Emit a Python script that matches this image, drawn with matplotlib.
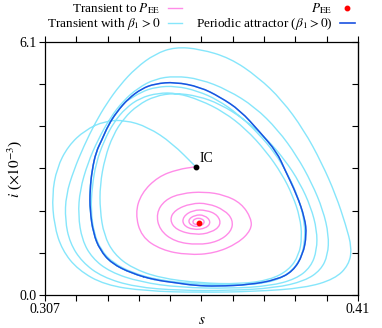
import numpy as np
import matplotlib
matplotlib.use("Agg")
import matplotlib.pyplot as plt
from matplotlib.path import Path
from matplotlib.patches import PathPatch
from matplotlib.lines import Line2D

plt.rcParams['font.family'] = ['Liberation Serif', 'DejaVu Serif']
plt.rcParams['mathtext.fontset'] = 'stix'

# axis limits / ticks
s_min, s_max = 0.307, 0.41
i_min, i_max = 0.0, 6.1
x_tick_labels = ["0.307", "0.41"]
y_tick_labels = ["0.0", "6.1"]

# points (s, i x 1e-3)
ic = (0.3567, 3.086)
p_ee = (0.3576, 1.729)

# transient to P_EE (beta1 = 0), spiral from IC into P_EE
spiral_s = [0.3568, 0.3508, 0.3442, 0.3387, 0.3367, 0.3387, 0.3453, 0.3540, 0.3628, 0.3705,
            0.3749, 0.3749, 0.3716, 0.3661, 0.3595, 0.3518, 0.3464, 0.3436, 0.3447, 0.3497,
            0.3573, 0.3639, 0.3683, 0.3689, 0.3661, 0.3606, 0.3551, 0.3497, 0.3480, 0.3502,
            0.3563, 0.3617, 0.3650, 0.3639, 0.3601, 0.3557, 0.3524, 0.3524, 0.3557, 0.3601,
            0.3617, 0.3595, 0.3563, 0.3540, 0.3551, 0.3579, 0.3597, 0.3587, 0.3563, 0.3554,
            0.3568, 0.3582, 0.3576]
spiral_i = [3.093, 3.031, 2.852, 2.452, 1.970, 1.406, 1.085, 0.964, 1.005, 1.246,
            1.567, 1.849, 2.211, 2.411, 2.491, 2.452, 2.290, 1.970, 1.567, 1.285,
            1.206, 1.285, 1.526, 1.808, 2.049, 2.211, 2.211, 2.049, 1.808, 1.567,
            1.447, 1.502, 1.688, 1.929, 2.049, 2.049, 1.888, 1.688, 1.567, 1.608,
            1.767, 1.929, 1.929, 1.808, 1.664, 1.647, 1.743, 1.849, 1.849, 1.743,
            1.688, 1.729, 1.729]

# transient with beta1 > 0, from IC towards the periodic attractor
trans_s = [0.3567, 0.3488, 0.3409, 0.3333, 0.3267, 0.3202, 0.3146, 0.3109, 0.3093, 0.3100,
           0.3126, 0.3179, 0.3267, 0.3399, 0.3580, 0.3761, 0.3925, 0.4024, 0.4070, 0.4080,
           0.4060, 0.4027, 0.3981, 0.3922, 0.3850, 0.3771, 0.3679, 0.3580, 0.3498, 0.3432,
           0.3369, 0.3317, 0.3274, 0.3235, 0.3198, 0.3165, 0.3139, 0.3136, 0.3152, 0.3192,
           0.3258, 0.3366, 0.3514, 0.3679, 0.3827, 0.3925, 0.3978, 0.4001, 0.4004, 0.3985,
           0.3948, 0.3899, 0.3837, 0.3761, 0.3672, 0.3580, 0.3498, 0.3432, 0.3376, 0.3327,
           0.3284, 0.3244, 0.3211, 0.3185, 0.3179, 0.3192, 0.3225, 0.3284, 0.3383, 0.3514,
           0.3679, 0.3810, 0.3896, 0.3945, 0.3965, 0.3965, 0.3945, 0.3909, 0.3860, 0.3797,
           0.3725, 0.3646, 0.3573, 0.3498, 0.3432, 0.3376, 0.3330, 0.3294, 0.3267, 0.3251,
           0.3251, 0.3264, 0.3297, 0.3356, 0.3448, 0.3580, 0.3712, 0.3810, 0.3873, 0.3906,
           0.3916, 0.3909, 0.3886, 0.3850, 0.3797, 0.3731, 0.3659, 0.3580, 0.3504, 0.3442,
           0.3383, 0.3336, 0.3297, 0.3264, 0.3238, 0.3225, 0.3221, 0.3231, 0.3254, 0.3294,
           0.3360, 0.3442, 0.3564, 0.3695, 0.3804, 0.3869, 0.3909, 0.3925, 0.3925, 0.3906,
           0.3869, 0.3827, 0.3771, 0.3705, 0.3639, 0.3573, 0.3501, 0.3435, 0.3386, 0.3340]
trans_i = [3.086, 3.665, 4.050, 4.219, 4.195, 3.978, 3.592, 3.062, 2.411, 1.688,
           1.085, 0.603, 0.241, 0.096, 0.060, 0.084, 0.169, 0.386, 0.723, 1.133,
           1.688, 2.411, 3.183, 3.978, 4.701, 5.256, 5.714, 5.931, 5.979, 5.811,
           5.473, 5.063, 4.629, 4.147, 3.592, 3.014, 2.411, 1.808, 1.254, 0.796,
           0.434, 0.193, 0.108, 0.108, 0.169, 0.338, 0.603, 0.964, 1.447, 2.049,
           2.700, 3.351, 3.978, 4.533, 4.943, 5.208, 5.280, 5.208, 4.991, 4.677,
           4.267, 3.737, 3.183, 2.532, 1.929, 1.326, 0.892, 0.555, 0.313, 0.181,
           0.157, 0.217, 0.386, 0.675, 1.085, 1.567, 2.122, 2.700, 3.255, 3.785,
           4.243, 4.605, 4.798, 4.870, 4.798, 4.581, 4.267, 3.858, 3.303, 2.652,
           2.049, 1.447, 0.989, 0.651, 0.410, 0.289, 0.265, 0.362, 0.603, 0.964,
           1.398, 1.881, 2.387, 2.917, 3.472, 4.002, 4.412, 4.701, 4.870, 4.870,
           4.750, 4.509, 4.171, 3.713, 3.183, 2.604, 2.049, 1.495, 1.085, 0.772,
           0.530, 0.362, 0.265, 0.229, 0.289, 0.482, 0.820, 1.254, 1.736, 2.315,
           2.917, 3.424, 3.906, 4.364, 4.701, 4.918, 5.039, 5.015, 4.894, 4.677]

# periodic attractor (beta1 > 0), one closed cycle
attr_s = [0.3432, 0.3498, 0.3563, 0.3636, 0.3744, 0.3833, 0.3886, 0.3919, 0.3931, 0.3925,
          0.3899, 0.3860, 0.3833, 0.3777, 0.3712, 0.3646, 0.3580, 0.3498, 0.3432, 0.3388,
          0.3344, 0.3306, 0.3278, 0.3257, 0.3238, 0.3225, 0.3218, 0.3218, 0.3229, 0.3251,
          0.3289, 0.3355, 0.3432]
attr_i = [0.362, 0.297, 0.229, 0.210, 0.248, 0.369, 0.571, 0.972, 1.454, 1.856,
          2.411, 3.014, 3.448, 3.930, 4.453, 4.774, 5.015, 5.135, 5.094, 4.974,
          4.733, 4.412, 4.091, 3.737, 3.448, 3.014, 2.532, 2.049, 1.488, 1.085,
          0.764, 0.523, 0.362]

c_pink = '#ff8ce8'
c_cyan = '#86e6fb'
c_blue = '#1a52e0'


def smooth_path(xs, ys, closed=False):
    # quadratic bezier through the read points (points used as control points)
    p = np.column_stack([xs, ys])
    if closed:
        p = p[:-1]
        nxt = np.roll(p, -1, axis=0)
        mids = (p + nxt) / 2
        verts = [mids[-1]]
        codes = [Path.MOVETO]
        for k in range(len(p)):
            verts += [p[k], mids[k]]
            codes += [Path.CURVE3, Path.CURVE3]
        return Path(verts, codes)
    mids = (p[:-1] + p[1:]) / 2
    verts = [p[0], mids[0]]
    codes = [Path.MOVETO, Path.LINETO]
    for k in range(1, len(p) - 1):
        verts += [p[k], mids[k]]
        codes += [Path.CURVE3, Path.CURVE3]
    verts.append(p[-1])
    codes.append(Path.LINETO)
    return Path(verts, codes)


def add_curve(ax, xs, ys, color, lw, z, closed=False):
    patch = PathPatch(smooth_path(xs, ys, closed), facecolor='none', edgecolor=color,
                      lw=lw, zorder=z, capstyle='round', joinstyle='round')
    ax.add_patch(patch)


fig = plt.figure(figsize=(3.82, 3.28), dpi=100)
ax = fig.add_axes([0.1178, 0.1006, 0.8192, 0.7714])

# cyan transient, then once round the attractor
ts = trans_s + attr_s[20:] + attr_s[1:]
ti = trans_i + attr_i[20:] + attr_i[1:]
add_curve(ax, ts, ti, c_cyan, 1.0, 2)
add_curve(ax, spiral_s, spiral_i, c_pink, 1.0, 3)
add_curve(ax, attr_s, attr_i, c_blue, 1.1, 4, closed=True)
ax.plot([p_ee[0]], [p_ee[1]], 'o', color='red', ms=3.2, zorder=5)
ax.plot([ic[0]], [ic[1]], 'o', color='black', ms=3.2, zorder=5)
ax.text(ic[0] + 0.0012, ic[1] + 0.05, 'IC', fontsize=10, ha='left', va='bottom')

ax.set_xlim(s_min, s_max)
ax.set_ylim(i_min, i_max)
xt = np.linspace(s_min, s_max, 11)
yt = np.linspace(i_min, i_max, 7)
ax.set_xticks(xt)
ax.set_xticklabels([x_tick_labels[0]] + [''] * 9 + [x_tick_labels[1]])
ax.set_yticks(yt)
ax.set_yticklabels([y_tick_labels[0]] + [''] * 5 + [y_tick_labels[1]])
ax.tick_params(axis='both', direction='out', length=4, width=0.8, labelsize=10, pad=2)
ax.tick_params(axis='x', top=True)
sec = ax.secondary_yaxis('right')
sec.set_yticks(yt)
sec.set_yticklabels([])
sec.tick_params(direction='in', length=4, width=0.8)
for sp in ax.spines.values():
    sp.set_linewidth(0.9)

ax.set_xlabel(r'$s$', fontsize=11, labelpad=-2)
ax.set_ylabel(r'$i$ ($\times10^{-3}$)', fontsize=11, labelpad=-3)

handles = [Line2D([], [], color=c_pink, lw=1.0),
           Line2D([], [], color=c_cyan, lw=1.0),
           Line2D([], [], color='red', marker='o', ms=3.2, ls='none'),
           Line2D([], [], color=c_blue, lw=1.2)]
labels = [r'Transient to $P_{\mathrm{EE}}$', r'Transient with $\beta_1 > 0$',
          r'$P_{\mathrm{EE}}$', r'Periodic attractor ($\beta_1 > 0$)']
fig.legend(handles, labels, ncol=2, loc='upper right',
           bbox_to_anchor=(356 / 382, 1.0), frameon=False, markerfirst=False, fontsize=9.5,
           handlelength=1.1, handletextpad=0.6, labelspacing=0.0, columnspacing=1.0,
           borderaxespad=0.0, borderpad=0.1)

fig.savefig('out.png', dpi=100)
